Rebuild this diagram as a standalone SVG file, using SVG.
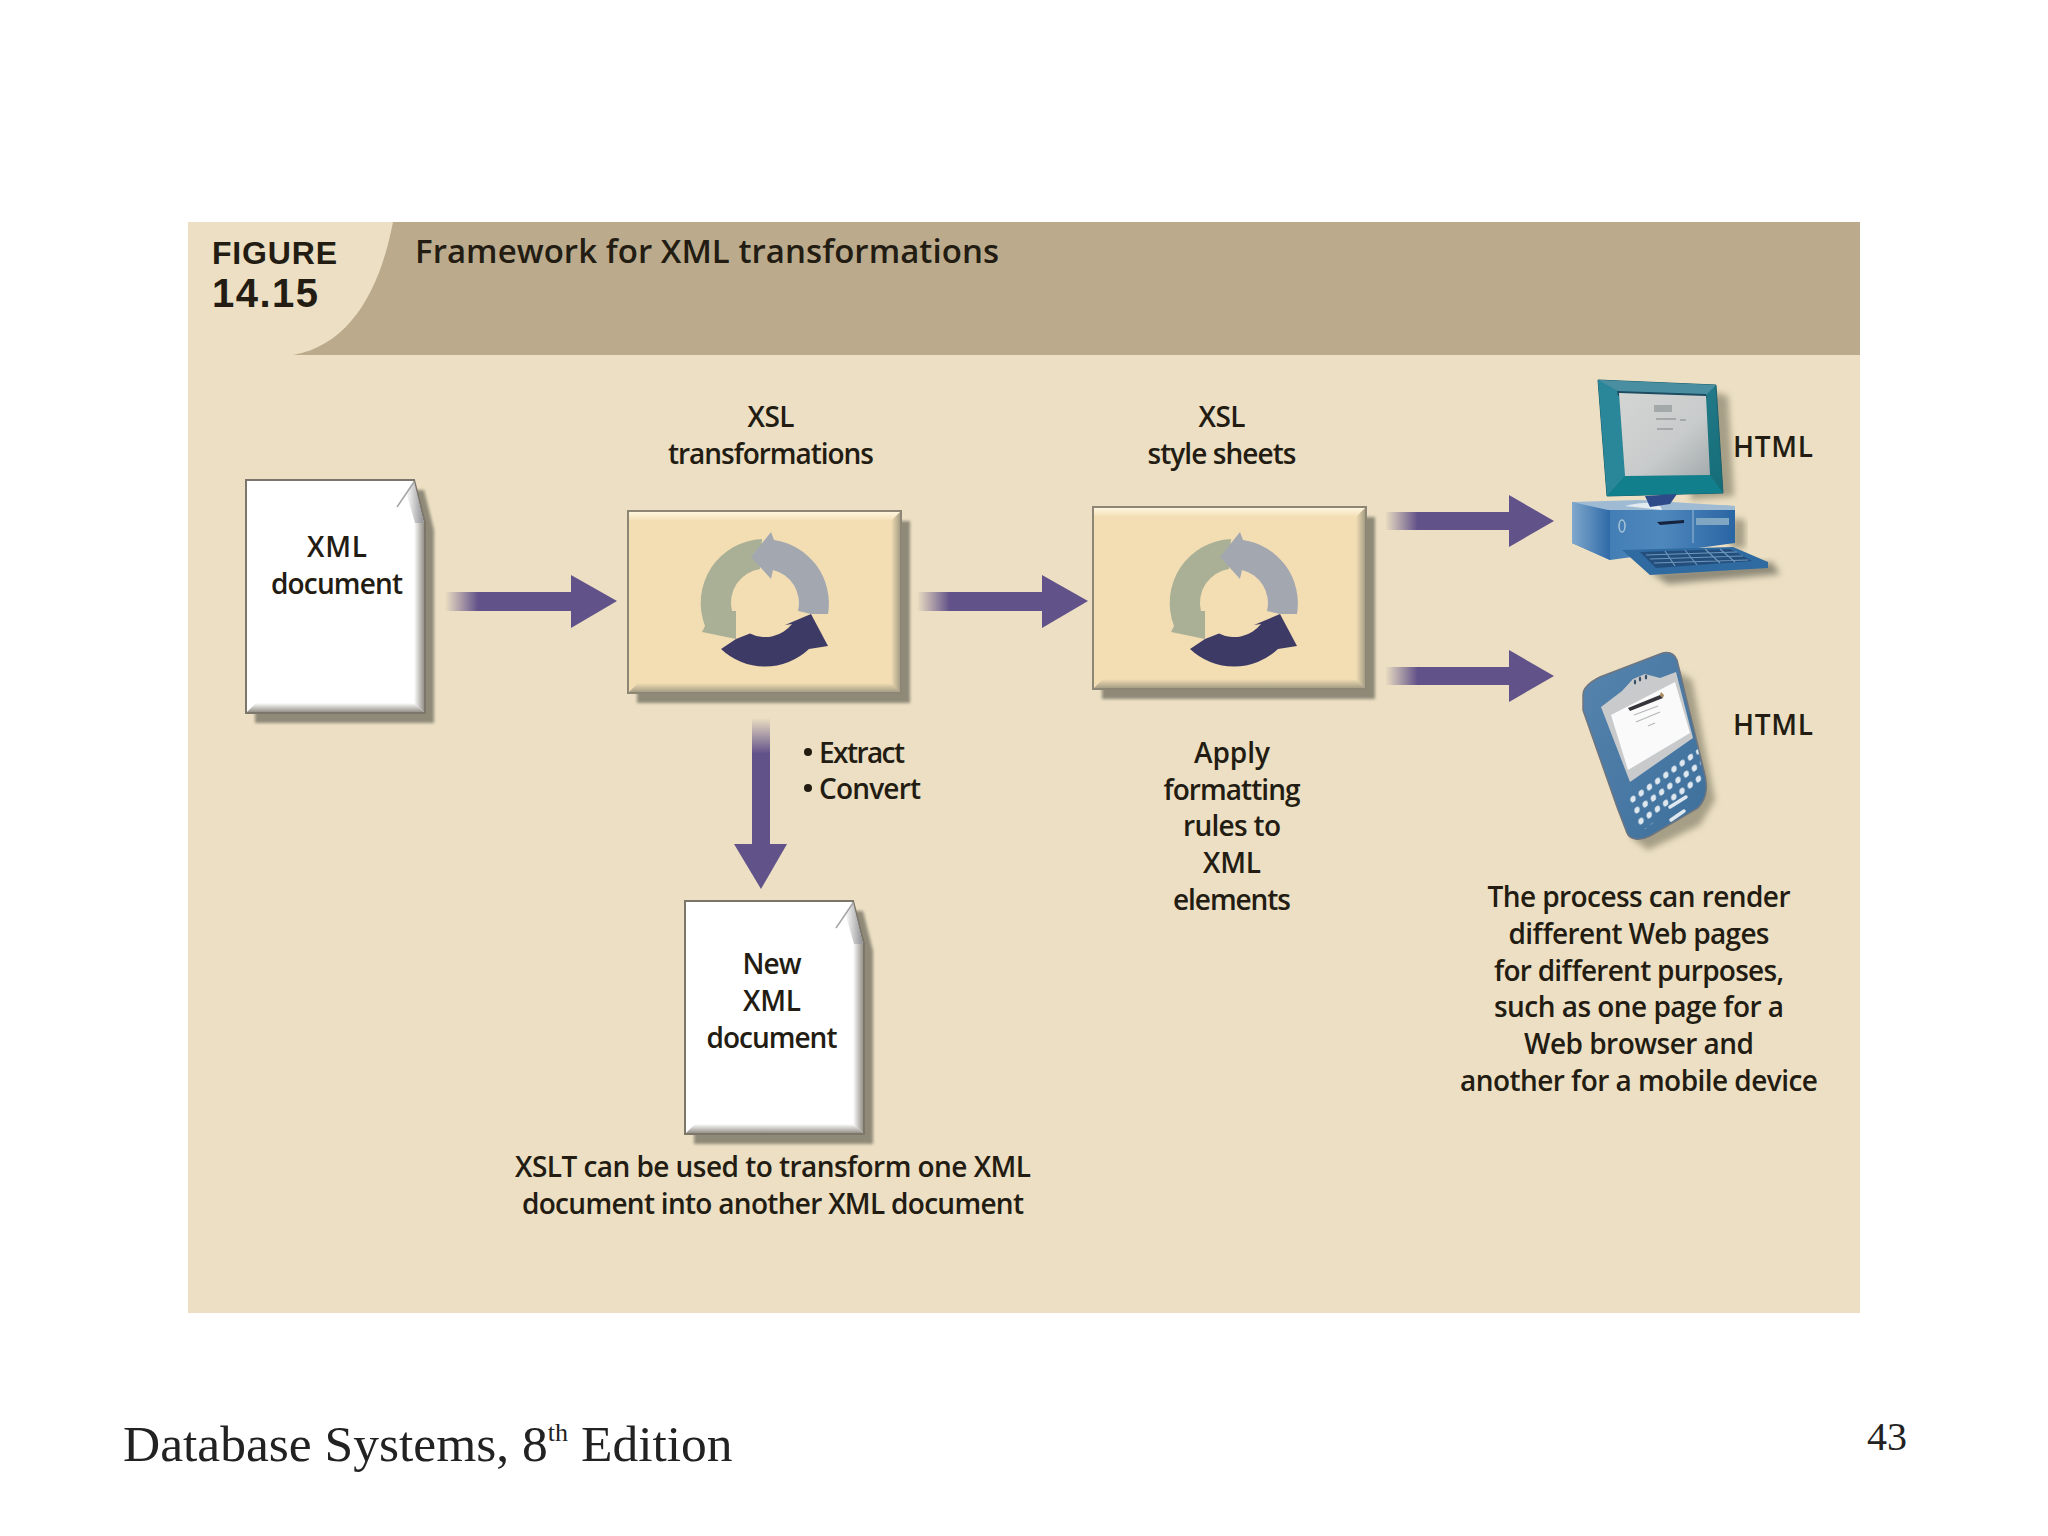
<svg xmlns="http://www.w3.org/2000/svg" width="2048" height="1536" viewBox="0 0 2048 1536">
<style>
.t{font-family:"Open Sans","Noto Sans",sans-serif;font-weight:600;font-size:28px;fill:#231c12;text-anchor:middle}
.l{text-anchor:start}
.h{font-size:33px}
.fig{font-family:"Liberation Sans",Arial,sans-serif;font-weight:700}
.f{font-family:"Liberation Serif",serif;fill:#222}
.head{fill:#62528a}
.doc{fill:#fff;stroke:#7b756a;stroke-width:2}
.sh{fill:#8f8a78;filter:url(#b)}
</style>
<defs>
<filter id="b" x="-10%" y="-10%" width="120%" height="120%"><feGaussianBlur stdDeviation="1.6"/></filter>
<filter id="b1" x="-20%" y="-20%" width="140%" height="140%"><feGaussianBlur stdDeviation="0.7"/></filter>
<filter id="b3" x="-20%" y="-20%" width="140%" height="140%"><feGaussianBlur stdDeviation="3"/></filter>
<linearGradient id="fx"><stop offset="0" stop-color="#ecdfc2"/><stop offset=".26" stop-color="#62528a"/><stop offset="1" stop-color="#62528a"/></linearGradient>
<linearGradient id="fy" x2="0" y2="1"><stop offset="0" stop-color="#ecdfc2"/><stop offset=".28" stop-color="#62528a"/><stop offset="1" stop-color="#62528a"/></linearGradient>
<linearGradient id="er"><stop offset="0" stop-color="#fff"/><stop offset="1" stop-color="#96928a"/></linearGradient>
<linearGradient id="eb" x2="0" y2="1"><stop offset="0" stop-color="#fff"/><stop offset="1" stop-color="#96928a"/></linearGradient>
<linearGradient id="fold" x1="0" y1="0" x2="1" y2="0"><stop offset="0" stop-color="#fff"/><stop offset="1" stop-color="#8f8f92"/></linearGradient>
<linearGradient id="br"><stop offset="0" stop-color="#f3deb4"/><stop offset="1" stop-color="#a69f86"/></linearGradient>
<linearGradient id="bb" x2="0" y2="1"><stop offset="0" stop-color="#f3deb4"/><stop offset="1" stop-color="#a69f86"/></linearGradient>
<linearGradient id="bt" x2="0" y2="1"><stop offset="0" stop-color="#fff6df"/><stop offset="1" stop-color="#f3deb4"/></linearGradient>
<linearGradient id="scr" x1="0" y1="0" x2="1" y2="1"><stop offset="0" stop-color="#d4d6d4"/><stop offset=".6" stop-color="#c8cbcb"/><stop offset="1" stop-color="#a4abad"/></linearGradient>
<linearGradient id="mon" x1="0" y1="0" x2="1" y2="1"><stop offset="0" stop-color="#2f8498"/><stop offset="1" stop-color="#136c76"/></linearGradient>
<linearGradient id="tower" x1="0" y1="0" x2="1" y2="0"><stop offset="0" stop-color="#3a76b0"/><stop offset=".55" stop-color="#4f88bc"/><stop offset="1" stop-color="#2a65a4"/></linearGradient>
<linearGradient id="side" x1="0" y1="0" x2="1" y2="0"><stop offset="0" stop-color="#7fa8cc"/><stop offset="1" stop-color="#2f6aa8"/></linearGradient>
<linearGradient id="ph" x1="0" y1="0" x2="1" y2="1"><stop offset="0" stop-color="#5684ad"/><stop offset="1" stop-color="#3d6f9c"/></linearGradient>
<pattern id="keys" patternUnits="userSpaceOnUse" width="1" height="1" patternTransform="matrix(8.2 -6 4 11 1626.9 796.5)"><ellipse cx=".5" cy=".5" rx=".3" ry=".26" fill="#dfe8ef"/></pattern>
<g id="cycle">
<path fill="#a9b096" d="M-3,-64A64,64 0 0 0 -60,23L-63,29L-29,36L-29,8L-33,8A34,34 0 0 1 -5,-34Z"/>
<path fill="#a3a8b0" d="M-14,-46L6,-71L9,-63A64,64 0 0 1 63,11L46,11L33,8A34,34 0 0 0 8,-33L6,-24Z"/>
<path fill="#3e3a66" d="M-29,36L-44,46A64,64 0 0 0 44,46L63,43L46,11L20,22L27,21A34,34 0 0 1 -15,30.500Z"/>
</g>
<g id="boxbody">
<rect x="9" y="10" width="273" height="182" class="sh"/>
<rect x="0" y="0" width="273" height="182" fill="#f3deb4" stroke="#8d8674" stroke-width="2"/>
<rect x="1" y="1" width="271" height="9" fill="url(#bt)"/>
<path d="M263,10L272,1V181H263Z" fill="url(#br)"/>
<path d="M10,172H263L272,181H1Z" fill="url(#bb)"/>
</g>
<g id="docbody">
<path class="sh" d="M9,10H178L188,50V243H9Z"/>
<path class="doc" d="M0,0H168L179,43V233H0Z"/>
<path d="M168,1L178,43H169L160,12Z" fill="url(#fold)"/>
<path d="M168,2L151,27" stroke="#a5a5a8" stroke-width="1.500" fill="none"/>
<path d="M168,43H178V232L168,223Z" fill="url(#er)"/>
<path d="M10,223H168L178,232H1Z" fill="url(#eb)"/>
</g>
</defs>
<rect width="2048" height="1536" fill="#fff"/>
<rect x="188" y="222" width="1672" height="1091" fill="#ecdfc3"/>
<path d="M393,222H1860V355H293C350,345 380,290 393,222Z" fill="#bbab8c"/>
<text class="t l fig" x="212" y="264" style="font-size:32px" textLength="125">FIGURE</text>
<text class="t l fig" x="212" y="307" style="font-size:40px" textLength="106">14.15</text>
<text class="t l h" x="415" y="263" textLength="584">Framework for XML transformations</text>

<g id="connectors">
<g id="arrow-xml-xsl"><rect x="445" y="592" width="127" height="19" fill="url(#fx)"/><path class="head" d="M571,575L617,601L571,628Z"/></g>
<g id="arrow-xsl-style"><rect x="917" y="592" width="126" height="19" fill="url(#fx)"/><path class="head" d="M1042,575L1088,601L1042,628Z"/></g>
<g id="arrow-style-pc"><rect x="1385" y="512" width="125" height="18" fill="url(#fx)"/><path class="head" d="M1509,495L1554,521L1509,547Z"/></g>
<g id="arrow-style-phone"><rect x="1385" y="667" width="125" height="18" fill="url(#fx)"/><path class="head" d="M1509,650L1554,676L1509,702Z"/></g>
<g id="arrow-xsl-new"><rect x="752" y="718" width="18" height="127" fill="url(#fy)"/><path class="head" d="M734,844H787L761,889Z"/></g>
</g>

<g id="xml-document">
<use href="#docbody" x="246" y="480"/>
<text class="t" x="337" y="557" textLength="60">XML</text>
<text class="t" x="337" y="594" textLength="132">document</text>
</g>

<g id="xsl-transformations">
<text class="t" x="771" y="427" textLength="47">XSL</text>
<text class="t" x="771" y="464" textLength="206">transformations</text>
<use href="#boxbody" x="628" y="511"/>
<use href="#cycle" x="765" y="603"/>
</g>

<g id="xsl-style-sheets">
<text class="t" x="1222" y="427" textLength="47">XSL</text>
<text class="t" x="1222" y="464" textLength="149">style sheets</text>
<use href="#boxbody" x="1093" y="507"/>
<use href="#cycle" x="1234" y="603"/>
</g>

<g id="extract-convert">
<circle cx="808" cy="752" r="4" fill="#231c12"/>
<circle cx="808" cy="788" r="4" fill="#231c12"/>
<text class="t l" x="819" y="763" textLength="86">Extract</text>
<text class="t l" x="819" y="799" textLength="102">Convert</text>
</g>

<g id="new-xml-document">
<use href="#docbody" x="685" y="901"/>
<text class="t" x="772" y="974" textLength="59">New</text>
<text class="t" x="772" y="1011" textLength="58">XML</text>
<text class="t" x="772" y="1048" textLength="131">document</text>
<text class="t" x="773" y="1177" textLength="516">XSLT can be used to transform one XML</text>
<text class="t" x="773" y="1214" textLength="502">document into another XML document</text>
</g>

<g id="apply-note">
<text class="t" x="1232" y="763" textLength="76">Apply</text>
<text class="t" x="1232" y="800" textLength="137">formatting</text>
<text class="t" x="1232" y="836" textLength="98">rules to</text>
<text class="t" x="1232" y="873" textLength="58">XML</text>
<text class="t" x="1232" y="910" textLength="118">elements</text>
</g>

<g id="computer">
<path d="M1712,392L1728,396L1734,496L1690,500Z" fill="#a69f86" filter="url(#b3)"/>
<path d="M1650,572L1772,562L1780,574L1668,584Z" fill="#8f8a78" filter="url(#b3)"/>
<path d="M1733,518L1745,520L1745,548L1730,548Z" fill="#a69f86" filter="url(#b3)"/>
<path d="M1598,380L1716,385L1723,493L1607,496Z" fill="url(#mon)" stroke="#1a5f6d"/>
<path d="M1598,380L1716,385L1706,395L1619,392Z" fill="#4a8ea2"/>
<path d="M1598,380L1619,392L1625,476L1607,496Z" fill="#2a8699"/>
<path d="M1625,476L1710,475L1723,493L1607,496Z" fill="#12808c"/>
<path d="M1617,391L1706,394L1707,398L1618,396Z" fill="#1d4c60"/>
<path d="M1619,393L1706,396L1710,475L1625,476Z" fill="url(#scr)"/>
<g fill="#a3a8a8" filter="url(#b1)"><rect x="1654" y="405" width="18" height="7"/><rect x="1656" y="418" width="20" height="2"/><rect x="1680" y="419" width="6" height="2"/><rect x="1657" y="428" width="16" height="2"/></g>
<path d="M1572,502L1735,506V543L1610,560L1572,543Z" fill="url(#tower)"/>
<path d="M1572,502L1610,508V560L1572,543Z" fill="url(#side)"/>
<path d="M1572,502L1640,500L1735,506L1735,510L1608,510Z" fill="#9fbbd4"/>
<path d="M1625,506Q1660,498 1662,510Z" fill="#e3ebf0"/>
<path d="M1645,496L1677,494L1670,504L1650,507Z" fill="#2f4a88"/>
<path d="M1693,510V543" stroke="#7fa6c8" stroke-width="1.500"/>
<path d="M1657,522L1684,520L1684,523L1660,525Z" fill="#15233f"/>
<rect x="1696" y="518" width="33" height="7" fill="#7fa6c2"/>
<ellipse cx="1622" cy="526" rx="3" ry="6" fill="none" stroke="#a9c4d8" stroke-width="1.500"/>
<path d="M1622,550L1733,547L1768,562V568L1650,575Z" fill="#2f6aa0"/>
<path d="M1640,552L1730,549L1752,561L1656,568Z" fill="#234e7c"/>
<g stroke="#6f97bc" stroke-width="1.200" fill="none"><path d="M1646,555L1737,552M1650,559L1743,556M1654,563L1748,560M1665,551L1675,566M1685,550L1697,565M1705,549L1720,563M1720,549L1735,562"/></g>
</g>
<text class="t" x="1773" y="457" textLength="80">HTML</text>

<g id="phone">
<path d="M1660,662L1692,680L1715,800L1700,825L1648,850L1632,838Z" fill="#a69f86" filter="url(#b3)"/>
<path d="M1583,695C1583,688 1590,682 1600,677L1660,654C1668,651 1674,653 1677,660L1703,767C1708,785 1708,797 1698,808L1650,836C1640,841 1630,840 1627,833L1617,807L1583,710Z" fill="url(#ph)" stroke="#6d7580" stroke-width="1.500"/>
<path d="M1601,707L1622,691L1633,679L1645,674L1660,678L1676,672L1693,738L1630,782Z" fill="#c8cacb"/>
<path d="M1611,715L1675,682L1690,733L1628,770Z" fill="#fafafa"/>
<path d="M1628,708L1660,695L1663,698L1630,711Z" fill="#34343a"/>
<path d="M1660,695L1663,698L1664,695L1661,692Z" fill="#a88a5a"/>
<g stroke="#b4b8bb" stroke-width="1.200"><path d="M1634,715L1658,706M1636,722L1660,712M1648,726L1655,723"/></g>
<g fill="#3a4f66"><ellipse cx="1635" cy="682" rx="1.200" ry="2.500"/><ellipse cx="1640" cy="679" rx="1.200" ry="2.500"/><ellipse cx="1646" cy="677" rx="1.200" ry="2.500"/></g>
<path d="M1628,794L1698,749L1704,783L1672,806L1646,829L1636,826Z" fill="url(#keys)"/>
<g stroke="#dfe8ef" stroke-width="3.500" stroke-linecap="round"><path d="M1670,807L1686,797M1671,820L1684,811"/></g>
</g>
<text class="t" x="1773" y="735" textLength="80">HTML</text>

<g id="process-note">
<text class="t" x="1639" y="907" textLength="303">The process can render</text>
<text class="t" x="1639" y="944" textLength="261">different Web pages</text>
<text class="t" x="1639" y="981" textLength="290">for different purposes,</text>
<text class="t" x="1639" y="1017" textLength="290">such as one page for a</text>
<text class="t" x="1639" y="1054" textLength="230">Web browser and</text>
<text class="t" x="1639" y="1091" textLength="358">another for a mobile device</text>
</g>

<text class="f" x="123" y="1461" font-size="51.500">Database Systems, 8<tspan font-size="26" dy="-20">th</tspan><tspan dy="20"> Edition</tspan></text>
<text class="f" x="1867" y="1450" font-size="40">43</text>
</svg>
